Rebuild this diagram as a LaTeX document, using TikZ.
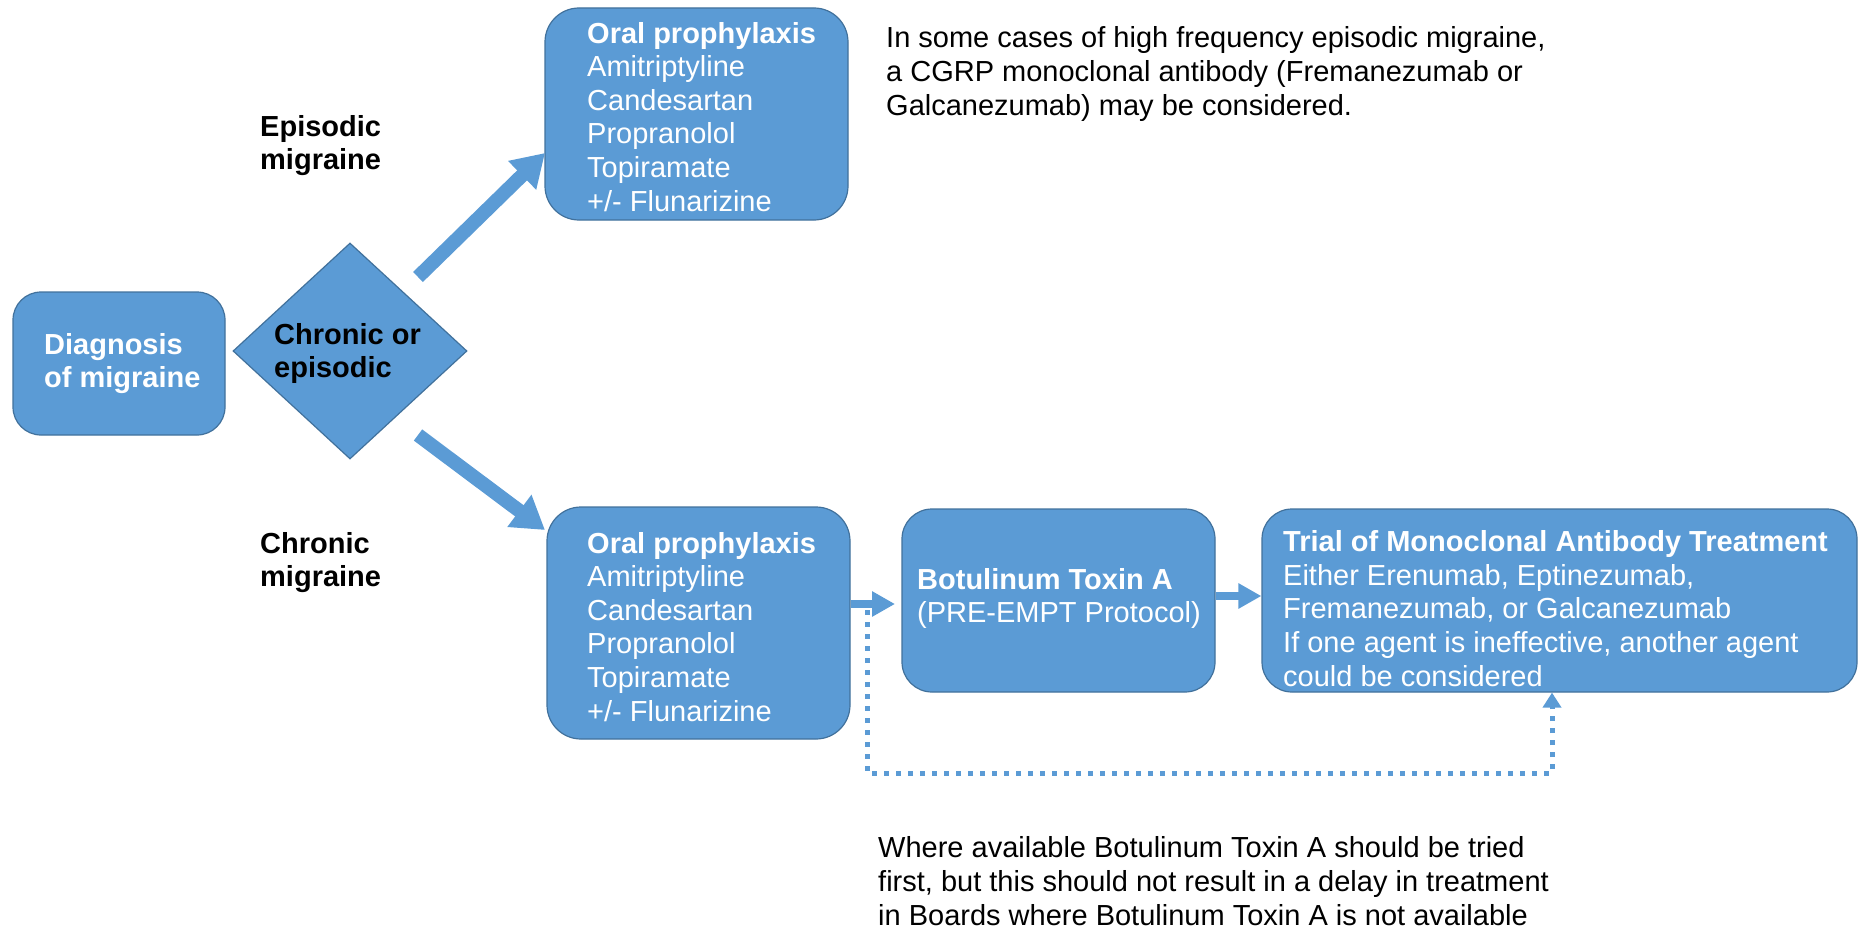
\documentclass[tikz,border=0pt]{standalone}
\usepackage{fontspec}
\setmainfont{Liberation Sans}
\usetikzlibrary{shapes.geometric,arrows.meta}
\definecolor{mblue}{HTML}{5B9BD5}
\definecolor{mborder}{HTML}{41719C}
\begin{document}
\begin{tikzpicture}[x=1pt,y=-1pt,
 box/.style={draw=mborder,line width=1.2pt,fill=mblue,rounded corners=28pt,inner sep=0pt},
 txt/.style={anchor=base west,inner sep=0pt,align=left,font=\fontsize{29}{33.6}\selectfont},
 wtxt/.style={txt,text=white},
 bigarrow/.style={draw=mblue,line width=14pt,-{Triangle[length=32pt,width=38pt,fill=mblue]}},
 harrow/.style={draw=mblue,line width=8pt,-{Triangle[length=23pt,width=24pt,fill=mblue]}},
 dotarrow/.style={draw=mblue,line width=5pt,dash pattern=on 5pt off 7pt,-{Triangle[length=15pt,width=18pt,fill=mblue]}}]
\useasboundingbox (0,0) rectangle (1858,931);

% boxes
\node[box,minimum width=212pt,minimum height=143pt] (diag) at (119,363.5) {};
\node[diamond,draw=mborder,line width=1.2pt,fill=mblue,minimum width=234pt,minimum height=216pt,inner sep=0pt] (dec) at (350,351) {};
\node[box,minimum width=303pt,minimum height=212pt,rounded corners=34pt] (oralA) at (696.5,114) {};
\node[box,minimum width=303pt,minimum height=232pt,rounded corners=34pt] (oralB) at (698.5,623) {};
\node[box,minimum width=313pt,minimum height=183pt,rounded corners=30pt] (bot) at (1058.5,600.5) {};
\node[box,minimum width=595pt,minimum height=183pt,rounded corners=30pt] (trial) at (1559.5,600.5) {};

% texts (anchored at the baseline of their last line)
\node[wtxt] (tdiag) at (44,387.6) {\textbf{Diagnosis}\\\textbf{of migraine}};
\node[txt] (tdec) at (274,377.6) {\textbf{Chronic or}\\\textbf{episodic}};
\node[txt] (tepi) at (260,169.6) {\textbf{Episodic}\\\textbf{migraine}};
\node[txt] (tchr) at (260,586.6) {\textbf{Chronic}\\\textbf{migraine}};
\node[wtxt] (toralA) at (587,211) {\textbf{Oral prophylaxis}\\Amitriptyline\\Candesartan\\Propranolol\\Topiramate\\+/- Flunarizine};
\node[wtxt] (toralB) at (587,721) {\textbf{Oral prophylaxis}\\Amitriptyline\\Candesartan\\Propranolol\\Topiramate\\+/- Flunarizine};
\node[wtxt] (tbot) at (917,622.6) {\textbf{Botulinum Toxin A}\\(PRE-EMPT Protocol)};
\node[wtxt] (ttrial) at (1283,686) {\textbf{Trial of Monoclonal Antibody Treatment}\\Either Erenumab, Eptinezumab,\\Fremanezumab, or Galcanezumab\\If one agent is ineffective, another agent\\could be considered};
\node[txt] (notetop) at (886,115.2) {In some cases of high frequency episodic migraine,\\a CGRP monoclonal antibody (Fremanezumab or\\Galcanezumab) may be considered.};
\node[txt] (notebot) at (878,925) {Where available Botulinum Toxin A should be tried\\first, but this should not result in a delay in treatment\\in Boards where Botulinum Toxin A is not available};

% connectors
\coordinate (u0) at (418,277);
\coordinate (u1) at (545,153);
\coordinate (l0) at (418,435);
\coordinate (l1) at (545,530);
\draw[bigarrow] (u0) -- (u1);
\draw[bigarrow] (l0) -- (l1);

\coordinate (a1) at (895,604);
\draw[harrow] (oralB.east |- a1) -- (a1);
\coordinate (a2) at (1238,596);
\draw[harrow] (bot.east |- a2) -- (trial.west |- a2);

\coordinate (d0) at (867,610);
\coordinate (d1) at (1552,773);
\draw[dotarrow] (d0) |- (d1) -- (d1 |- trial.south);
\end{tikzpicture}
\end{document}
